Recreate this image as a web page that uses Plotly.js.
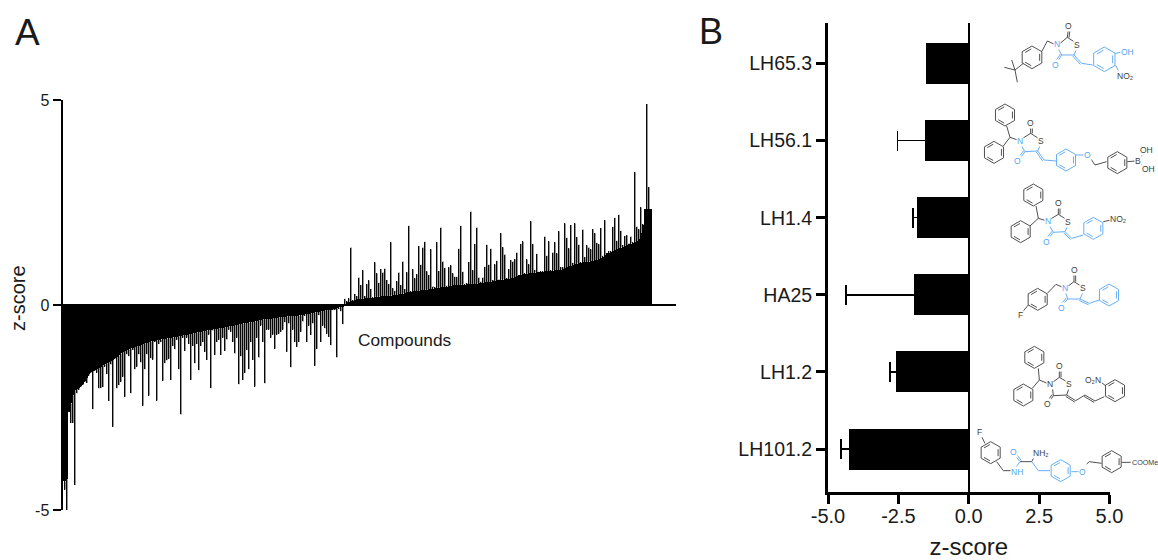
<!DOCTYPE html>
<html><head><meta charset="utf-8">
<script src="https://cdn.plot.ly/plotly-3.0.1.min.js"></script>
<style>html,body{margin:0;padding:0;background:#fff}#c{width:1158px;height:560px}</style>
</head><body><div id="c"></div>
<script>
// Panel A: screen of compounds, sorted mean z-score and the tip of each error bar
const screenMeans = [
-4.3,-4.3,-4.25,-2.6,-2.4,-2.2,-2.08,-2.05,-2.02,-1.98,
-1.92,-1.85,-1.78,-1.68,-1.63,-1.6,-1.58,-1.56,-1.53,-1.5,
-1.47,-1.45,-1.42,-1.39,-1.36,-1.33,-1.3,-1.27,-1.23,-1.18,
-1.14,-1.12,-1.1,-1.08,-1.06,-1.04,-1.02,-1,-.99,-.97,
-.95,-.93,-.92,-.9,-.89,-.88,-.87,-.86,-.85,-.84,
-.83,-.82,-.815,-.81,-.8,-.79,-.78,-.77,-.76,-.75,
-.74,-.73,-.72,-.71,-.7,-.69,-.68,-.67,-.66,-.65,
-.64,-.63,-.62,-.61,-.6,-.59,-.585,-.58,-.57,-.56,
-.55,-.54,-.53,-.52,-.51,-.5,-.49,-.48,-.47,-.46,
-.45,-.44,-.43,-.425,-.42,-.41,-.4,-.39,-.37,-.36,
-.35,-.345,-.34,-.335,-.33,-.32,-.31,-.305,-.3,-.295,
-.29,-.285,-.28,-.275,-.27,-.265,-.26,-.26,-.255,-.25,
-.24,-.23,-.22,-.21,-.2,-.19,-.18,-.17,-.16,-.15,
-.14,-.13,-.125,-.12,-.11,-.1,-.09,-.08,-.06,-.05,-.04,
.03,.07,.08,.09,.1,.12,.14,.145,.15,
.155,.16,.165,.17,.175,.18,.2,.2,.205,.21,
.21,.215,.22,.225,.23,.235,.24,.25,.26,.27,
.28,.29,.31,.315,.32,.33,.33,.34,.35,.36,
.365,.37,.375,.38,.39,.4,.41,.42,.42,.43,
.44,.445,.45,.46,.47,.48,.485,.49,.49,.495,
.5,.5,.505,.505,.51,.51,.51,.52,.525,.53,
.54,.55,.55,.56,.57,.58,.59,.6,.61,.62,
.62,.625,.63,.64,.65,.66,.68,.7,.72,.74,
.75,.76,.765,.77,.775,.78,.79,.8,.8,.81,
.815,.82,.825,.83,.835,.84,.85,.85,.855,.86,
.88,.9,.92,.94,.96,.98,1.0,1.01,1.02,1.03,
1.04,1.05,1.055,1.06,1.07,1.08,1.09,1.1,1.12,1.15,
1.18,1.22,1.26,1.28,1.3,1.32,1.34,1.36,1.38,1.4,
1.42,1.44,1.46,1.48,1.5,1.52,1.54,1.56,1.6,
1.75,1.95,2.34,2.34,2.34,2.34];
const screenTips = [
-4.3,-4.5,-5.03,-2.56,-2.88,-2.88,-4.39,-2.15,-2.07,-2.0,
-1.95,-1.88,-1.9,-1.72,-1.65,-2.54,-1.6,-1.65,-2.03,-2.03,
-2.0,-1.5,-1.68,-2.34,-1.45,-2.97,-1.32,-2.03,-1.95,-1.87,
-1.75,-2.24,-1.2,-1.25,-2.15,-1.1,-1.57,-1.5,-1.2,-1.4,
-2.46,-1.57,-1.2,-2.21,-1.3,-1.33,-.9,-2.33,-.95,-.9,
-1.85,-1.42,-1.35,-1.31,-1.83,-1.0,-1.08,-.85,-1.57,-2.67,
-.8,-1.12,-.8,-.95,-1.83,-1.0,-1.42,-.95,-1.59,-1.0,
-.9,-1.14,-1.34,-.72,-2.03,-.62,-1.22,-.9,-.85,-1.22,
-.8,-1.12,-.84,-.6,-.65,-.9,-1.18,-.8,-1.93,-1.25,
-1.83,-1.65,-1.1,-1.57,-.9,-1.34,-1.99,-.8,-1.28,-.5,
-.9,-1.91,-.6,-.6,-.8,-.72,-1.07,-.72,-.7,-.65,
-.6,-.42,-1.14,-.45,-1.52,-.6,-.9,-1.02,-.9,-.65,
-.4,-.26,-.9,-.5,-.73,-.45,-1.48,-1.07,-.25,-.9,
-.5,-.57,-.7,-.78,-.98,-.13,-.12,-1.28,-.1,-.15,-.47,
.15,.1,.16,1.4,.12,.27,.22,.67,.49,
.85,.22,.51,.6,.39,.19,1.04,.77,.54,.88,
.79,.89,.61,.51,1.53,.41,.35,.58,.79,.49,
1.06,.39,.8,1.93,.33,.87,.65,.75,1.44,.98,
1.4,1.54,.82,.73,1.36,.45,.43,1.53,.83,1.89,
1.06,.91,.47,.92,.97,.77,.69,.69,1.37,1.93,
.81,.52,.53,1.05,2.28,.85,1.49,1.89,.67,.57,
.67,.93,1.47,.98,1.37,.61,.99,1.08,.62,1.75,
1.41,1.23,.65,.88,1.1,1.06,1.12,1.28,.73,1.49,
1.55,.77,1.11,.99,2.04,1.49,.85,1.25,.81,.82,
.83,1.67,1.2,1.55,.85,1.28,1.53,1.26,1.8,.92,
.92,1.99,1.64,1.38,1.95,1.03,1.99,1.66,1.47,1.04,
1.84,1.17,1.46,1.4,1.36,1.85,1.75,1.52,1.48,1.88,
1.2,2.07,1.27,1.31,1.32,1.91,2.13,1.57,2.2,1.81,
1.46,1.68,1.7,1.5,1.67,1.53,3.24,1.91,1.85,
2.38,1.97,2.34,4.9,2.87,2.34];

// Panel B: selected compounds (LH65.3 shows no error bar beyond its bar)
const compounds = ["LH101.2","LH1.2","HA25","LH1.4","LH56.1","LH65.3"];
const compoundMeans = [-4.27,-2.58,-1.94,-1.84,-1.57,-1.52];
const compoundTips  = [-4.54,-2.79,-4.37,-1.97,-2.53,null];
const scoreTicks = [-5,-2.5,0,2.5,5];
const scoreTickText = ["-5.0","-2.5","0.0","2.5","5.0"];

const W=1158,H=560, FONT='"Liberation Sans", Arial, sans-serif', INK='#1a1a1a';
const dx=px=>px/W, dy=py=>1-py/H;

const errUp=screenMeans.map((m,i)=>m>0?screenTips[i]-m:0);
const errDown=screenMeans.map((m,i)=>m<0?m-screenTips[i]:0);
const traceA={type:'bar',x:screenMeans.map((_,i)=>i),y:screenMeans,xaxis:'x',yaxis:'y',
  marker:{color:'#000',line:{width:0}},cliponaxis:false,hoverinfo:'skip',
  error_y:{type:'data',symmetric:false,visible:true,array:errUp,arrayminus:errDown,
    width:0,thickness:1.4,color:'#111'}};
// soft halo on the same error bars: the blurred, heavier look of the original whiskers
const traceAHalo={type:'scatter',mode:'markers',x:screenMeans.map((_,i)=>i+0.25),y:screenMeans,xaxis:'x',yaxis:'y',
  marker:{size:1,opacity:0},cliponaxis:false,hoverinfo:'skip',
  error_y:{type:'data',symmetric:false,visible:true,array:errUp,arrayminus:errDown,
    width:0,thickness:2,color:'rgba(0,0,0,0.42)'}};
const traceB={type:'bar',orientation:'h',x:compoundMeans,y:compounds,xaxis:'x2',yaxis:'y2',
  width:compounds.map(()=>41/77.3),
  marker:{color:'#000',line:{width:0}},hoverinfo:'skip',
  error_x:{type:'data',symmetric:false,visible:true,
    array:compoundMeans.map((m,i)=>compoundTips[i]===null?NaN:0.5),   // the unused upper whisker stays hidden inside the black bar
    arrayminus:compoundMeans.map((m,i)=>compoundTips[i]===null?NaN:m-compoundTips[i]),
    width:10,thickness:1.6,color:'#000'}};

/* ---------- structure sketches (illustration, pixel placed) ---------- */
const GREY='#3c3c3c',BLUE='#55a6f2';
function hex(cx,cy,r,rot){const p=[];for(let k=0;k<6;k++){const a=(rot+60*k)*Math.PI/180;p.push([cx+r*Math.cos(a),cy+r*Math.sin(a)]);}
  const out=[[...p,p[0]]];
  [0,2,4].forEach(k=>{const a=p[k],b=p[(k+1)%6],f=.78,g=t=>[cx+(a[0]+(b[0]-a[0])*t-cx)*f,cy+(a[1]+(b[1]-a[1])*t-cy)*f];out.push([g(.1),g(.9)]);});
  return out;}
function dbl(a,b,o=5){const dxx=b[0]-a[0],dyy=b[1]-a[1],l=Math.hypot(dxx,dyy),nx=-dyy/l*o,ny=dxx/l*o;return [[[a[0]+nx,a[1]+ny],[b[0]+nx,b[1]+ny]],[a,b]];}
const shapes=[],labels=[];
function mol(ox,oy,grey,blue,texts){
  [[grey,GREY],[blue,BLUE]].forEach(([set,col])=>{
    const d=set.map(pl=>pl.map((p,i)=>(i?'L':'M')+dx(ox+p[0]/3).toFixed(5)+' '+dy(oy+p[1]/3).toFixed(5)).join(' ')).join(' ');
    if(d)shapes.push({type:'path',path:d,xref:'paper',yref:'paper',layer:'above',line:{color:col,width:.9}});
  });
  texts.forEach(t=>labels.push({x:dx(ox+t[1]/3),y:dy(oy+t[2]/3),xref:'paper',yref:'paper',text:t[0],showarrow:false,
    xanchor:t[4]||'center',yanchor:'middle',font:{family:FONT,size:t[5]||8.5,color:t[3]||GREY},bgcolor:'#fff',borderpad:0}));
}
// LH65.3
mol(970,20,
 [...hex(186,112,34,-30),[[135,150],[103,142]],[[135,150],[125,120]],[[135,150],[142,187]],[[135,150],[160,130]],[[215,95],[232,63],[256,74]],
  [[268,72],[292,52],[312,65]],...dbl([292,52],[295,28])],
 [[[262,80],[275,105],[312,105],[322,82]],...dbl([275,105],[261,128]),...dbl([312,105],[335,130]),[[335,130],[368,135]],...hex(403,118,37,-30),[[435,100],[452,97]],[[437,136],[445,152]]],
 [['S',322,74],['N',262,73,BLUE],['O',295,18],['O',255,135,BLUE],['OH',471,97,BLUE],['NO₂',465,168]]);
// LH56.1
mol(970,20,
 [...hex(105,285,33,-30),...hex(72,397,33,-30),[[120,352],[110,318]],[[120,352],[100,378]],[[120,352],[143,360]],[[158,355],[182,340],[205,355]],...dbl([182,340],[182,318]),[[358,410],[375,435],[410,425]],...hex(442,428,33,-30),[[472,425],[497,423]],[[510,413],[522,397]],[[512,432],[525,442]]],
 [[[150,370],[165,395],[203,393],[213,372]],...dbl([165,395],[150,415]),...dbl([203,393],[222,420]),[[222,420],[258,423]],...hex(288,420,33,-30),[[318,405],[343,405]]],
 [['S',213,362],['N',150,362,BLUE],['O',182,308],['O',143,422,BLUE],['O',352,405,BLUE],['B',505,423],['OH',530,390],['OH',535,448]]);
// LH1.4
mol(970,20,
 [...hex(190,525,33,-30),...hex(152,635,33,-30),[[205,595],[198,558]],[[205,595],[180,618]],[[205,595],[228,602]],[[242,597],[265,583],[287,597]],...dbl([265,583],[265,560]),[[400,605],[422,600]]],
 [[[235,610],[250,637],[285,635],[295,613]],...dbl([250,637],[233,658]),...dbl([285,635],[305,655]),[[305,655],[340,645]],...hex(370,625,33,-30)],
 [['S',295,605],['N',235,603,BLUE],['O',265,550],['O',228,665,BLUE],['NO₂',445,598]]);
// HA25
mol(970,260,
 [...hex(203,118,33,-30),[[175,135],[158,155]],[[232,100],[258,73],[278,82]],[[292,80],[312,65],[333,78]],...dbl([312,65],[312,40])],
 [[[285,92],[293,117],[330,117],[340,95]],...dbl([293,117],[277,136]),...dbl([330,117],[358,130]),[[358,130],[388,120]],...hex(417,105,33,-30)],
 [['S',340,85],['N',285,85,BLUE],['O',312,30],['O',273,143,BLUE],['F',150,165]]);
// LH1.2
mol(970,260,
 [...hex(193,292,33,-30),...hex(160,405,33,-30),[[208,360],[205,325]],[[208,360],[187,385]],[[208,360],[232,370]],[[248,367],[268,352],[290,365]],...dbl([268,352],[268,328]),
  [[247,380],[250,407],[290,405],[298,382]],...dbl([250,407],[238,425]),...dbl([290,405],[317,422]),[[317,422],[345,405]],...dbl([345,405],[375,423]),[[375,423],[403,410]],...hex(435,392,33,-30),[[395,368],[408,378]]],
 [],
 [['S',298,373],['N',240,373],['O',268,318],['O',232,432],['O₂N',370,360]]);
// LH101.2
mol(970,260,
 [...hex(62,578,33,-30),[[45,550],[35,530]],[[80,605],[100,632],[125,632]],[[150,605],[185,605]],[[185,605],[195,588]],[[350,612],[358,605],[395,610]],...hex(425,605,33,-30),[[455,607],[482,607]]],
 [[[150,605],[130,632]],...dbl([150,605],[135,585]),[[185,605],[205,632],[240,632]],...hex(272,632,33,-30),[[304,635],[328,635]]],
 [['F',28,517],['O',131,575,BLUE],['NH',140,637,BLUE],['NH₂',212,578],['O',338,635,BLUE],['COOMe',483,607,GREY,'left',7.2]]);

const pA=[63,676,100,510], pB=[828,1109.5,22.7,491.5];
const layout={width:W,height:H,margin:{l:0,r:0,t:0,b:0},paper_bgcolor:'#fff',plot_bgcolor:'rgba(0,0,0,0)',
  showlegend:false,bargap:0,
  font:{family:FONT,color:INK},
  xaxis:{domain:[dx(pA[0]),dx(pA[1])],range:[0.25,306.75],visible:false,fixedrange:true},
  yaxis:{domain:[dy(pA[3]),dy(pA[2])],range:[-5,5],tickvals:[-5,0,5],ticktext:['-5','0','5'],ticks:'outside',ticklen:8,tickwidth:2.5,
    showline:true,linewidth:2.5,linecolor:'#000',tickcolor:'#000',showgrid:false,zeroline:true,zerolinecolor:'#000',zerolinewidth:2.5,
    tickfont:{size:16,color:INK},fixedrange:true,automargin:false},
  xaxis2:{domain:[dx(pB[0]),dx(pB[1])],range:[-5,5],tickvals:scoreTicks,ticktext:scoreTickText,ticks:'outside',ticklen:9,tickwidth:3,
    showline:true,linewidth:3,linecolor:'#000',tickcolor:'#000',showgrid:false,zeroline:true,zerolinecolor:'#000',zerolinewidth:2.5,
    ticklabelstandoff:-5,
    tickfont:{size:20,color:INK},title:{text:'z-score',font:{size:24,color:INK},standoff:20},anchor:'y2',fixedrange:true,automargin:false},
  yaxis2:{domain:[dy(pB[3]),dy(pB[2])],range:[-0.55,5.528],type:'category',categoryorder:'array',categoryarray:compounds,
    ticks:'outside',ticklen:9,tickwidth:3,showline:true,linewidth:3,linecolor:'#000',tickcolor:'#000',showgrid:false,zeroline:false,
    tickfont:{size:19.5,color:INK},anchor:'x2',fixedrange:true,automargin:false},
  shapes,
  annotations:[
    {x:dx(18),y:dy(298),xref:'paper',yref:'paper',text:'z-score',textangle:-90,showarrow:false,xanchor:'center',yanchor:'middle',font:{size:20,color:INK}},
    {x:dx(356),y:dy(340),xref:'paper',yref:'paper',text:'Compounds',showarrow:false,xanchor:'left',yanchor:'middle',font:{size:17.3,color:INK}},
    {x:dx(13),y:dy(32),xref:'paper',yref:'paper',text:'A',showarrow:false,xanchor:'left',yanchor:'middle',font:{size:37,color:INK}},
    {x:dx(697),y:dy(31),xref:'paper',yref:'paper',text:'B',showarrow:false,xanchor:'left',yanchor:'middle',font:{size:36,color:INK}},
    ...labels]};
Plotly.newPlot('c',[traceA,traceAHalo,traceB],layout,{displayModeBar:false,staticPlot:true});
</script></body></html>
